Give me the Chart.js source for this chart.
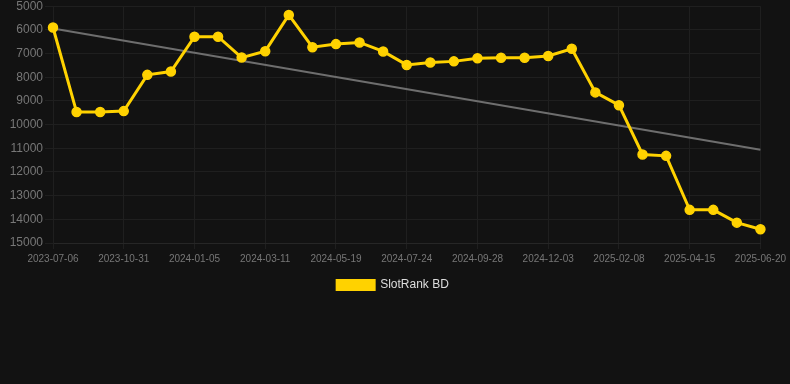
<html>
<head>
<script src="https://cdn.jsdelivr.net/npm/chart.js@4.4.1/dist/chart.umd.min.js"></script>
<style>
  html, body { margin: 0; padding: 0; background: #121212; overflow: hidden; }
  .canvas-container { position: relative; width: 790px; height: 304px; margin-top: -3px; }
</style>
</head>
<body>
<div class="canvas-container">
  <canvas id="chart"></canvas>
</div>
<script>
// dates of the rank readings (every 3rd one is shown on the axis)
var dates = [
  '2023-07-06', '2023-08-14', '2023-09-22', '2023-10-31', '2023-11-22', '2023-12-14',
  '2024-01-05', '2024-01-27', '2024-02-18', '2024-03-11', '2024-04-03', '2024-04-26',
  '2024-05-19', '2024-06-10', '2024-07-02', '2024-07-24', '2024-08-15', '2024-09-06',
  '2024-09-28', '2024-10-20', '2024-11-11', '2024-12-03', '2024-12-25', '2025-01-17',
  '2025-02-08', '2025-03-02', '2025-03-24', '2025-04-15', '2025-05-07', '2025-05-29',
  '2025-06-20'
];
var ranks = [
  5900, 9470, 9470, 9430, 7900, 7760, 6290, 6290, 7170, 6900,
  5370, 6730, 6600, 6530, 6910, 7480, 7380, 7330, 7200, 7180,
  7180, 7100, 6800, 8640, 9180, 11260, 11320, 13600, 13600, 14140,
  14420
];
// trend line: only its two ends are known, the line spans the gap
var trend = [5940].concat(new Array(29).fill(null), [11060]);
var yTicks = [5000, 6000, 7000, 8000, 9000, 10000, 11000, 12000, 13000, 14000, 15000];

var ctx = document.getElementById('chart').getContext('2d');
new Chart(ctx, {
  type: 'line',
  data: {
    labels: dates,
    datasets: [{
      label: 'SlotRank BD',
      data: ranks,
      borderColor: '#ffd200',
      backgroundColor: '#ffd200',
      borderWidth: 3,
      pointRadius: 4.5,
      pointHoverRadius: 4.5,
      pointBorderWidth: 1.5,
      pointBackgroundColor: '#ffd200',
      pointBorderColor: '#ffd200',
      tension: 0
    }, {
      label: 'trend',
      data: trend,
      spanGaps: true,
      borderColor: '#6e6e6e',
      borderWidth: 2,
      pointRadius: 0,
      fill: false
    }]
  },
  options: {
    responsive: true,
    maintainAspectRatio: false,
    animation: false,
    layout: { padding: { left: 0, right: 4, top: 0, bottom: 0 } },
    plugins: {
      legend: {
        position: 'bottom',
        labels: {
          color: '#dddddd',
          font: { family: 'Liberation Sans, Arial', size: 12 },
          boxWidth: 37,
          boxHeight: 9,
          filter: function (item) { return item.text !== 'trend'; }
        }
      },
      tooltip: { enabled: false }
    },
    scales: {
      x: {
        offset: false,
        grid: {
          color: function (c) { return c.index % 3 === 0 ? '#1f1f1f' : 'rgba(0,0,0,0)'; },
          tickLength: 6
        },
        border: { color: '#262626' },
        ticks: {
          color: '#777',
          font: { family: 'Liberation Sans, Arial', size: 10 },
          padding: 4,
          autoSkip: false,
          maxRotation: 0,
          callback: function (v, i) { return i % 3 === 0 ? dates[i] : ''; }
        }
      },
      y: {
        reverse: true,
        min: 5000,
        max: 15000,
        afterBuildTicks: function (axis) {
          axis.ticks = yTicks.map(function (v) { return { value: v }; });
        },
        afterFit: function (axis) { axis.width = 53; },
        grid: { color: '#1f1f1f', tickLength: 8 },
        border: { color: '#1f1f1f' },
        ticks: {
          color: '#777',
          font: { family: 'Liberation Sans, Arial', size: 12 },
          padding: 2,
          callback: function (v) { return String(v); }
        }
      }
    }
  }
});
</script>
</body>
</html>
